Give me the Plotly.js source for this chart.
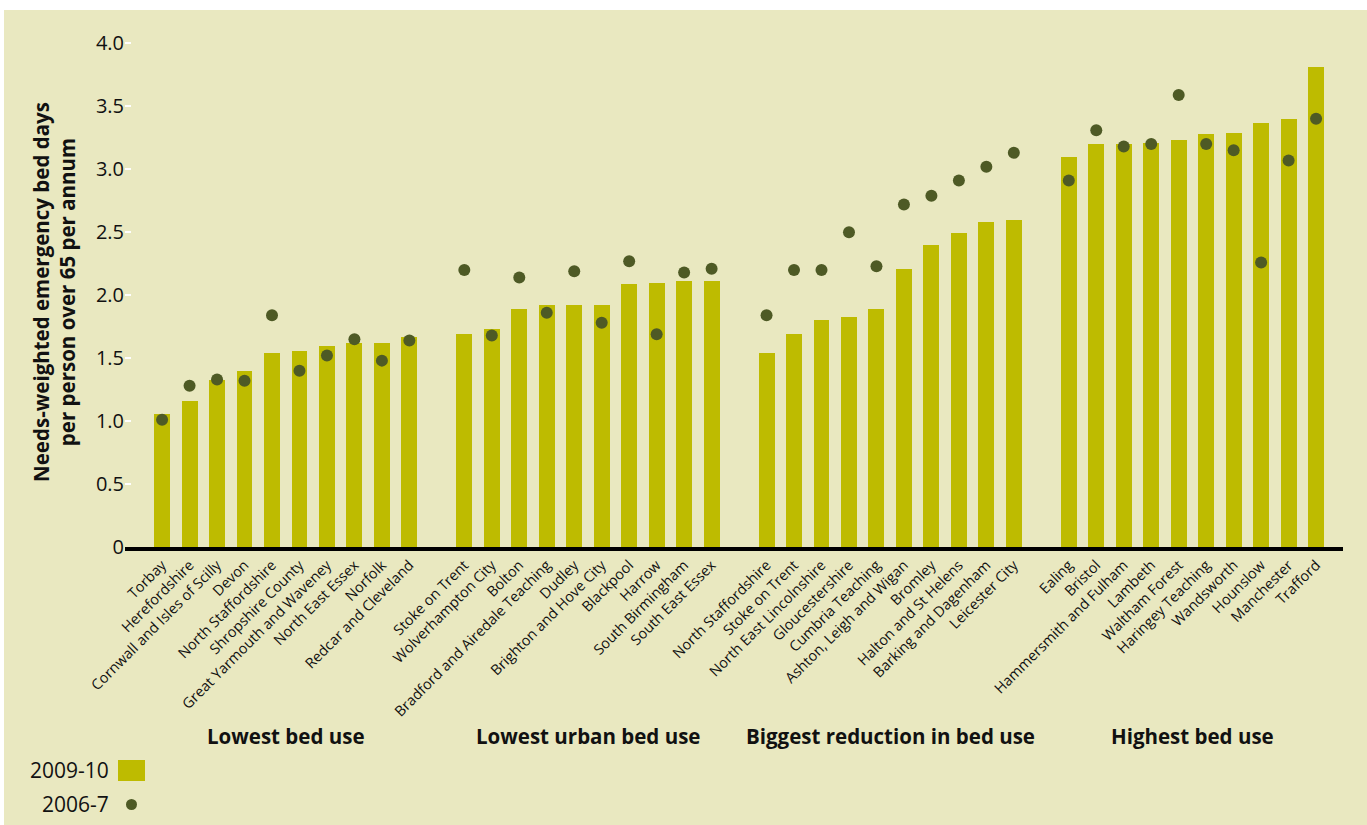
<!DOCTYPE html>
<html>
<head>
<meta charset="utf-8">
<script src="https://cdn.plot.ly/plotly-3.0.1.min.js"></script>
<style>html,body{margin:0;padding:0;background:#fff;}#chart{width:1367px;height:825px;}</style>
</head>
<body>
<div id="chart"></div>
<script>
// ---- DATA ----
const groupNames = ["Lowest bed use", "Lowest urban bed use", "Biggest reduction in bed use", "Highest bed use"];

const areasLowest = ["Torbay", "Herefordshire", "Cornwall and Isles of Scilly", "Devon", "North Staffordshire",
  "Shropshire County", "Great Yarmouth and Waveney", "North East Essex", "Norfolk", "Redcar and Cleveland"];
const bed0910Lowest = [1.06, 1.16, 1.33, 1.40, 1.54, 1.56, 1.60, 1.62, 1.62, 1.67];
const bed0607Lowest = [1.01, 1.28, 1.33, 1.32, 1.84, 1.40, 1.52, 1.65, 1.48, 1.64];

const areasUrban = ["Stoke on Trent", "Wolverhampton City", "Bolton", "Bradford and Airedale Teaching", "Dudley",
  "Brighton and Hove City", "Blackpool", "Harrow", "South Birmingham", "South East Essex"];
const bed0910Urban = [1.69, 1.73, 1.89, 1.92, 1.92, 1.92, 2.09, 2.10, 2.11, 2.11];
const bed0607Urban = [2.20, 1.68, 2.14, 1.86, 2.19, 1.78, 2.27, 1.69, 2.18, 2.21];

const areasReduction = ["North Staffordshire", "Stoke on Trent", "North East Lincolnshire", "Gloucestershire", "Cumbria Teaching",
  "Ashton, Leigh and Wigan", "Bromley", "Halton and St Helens", "Barking and Dagenham", "Leicester City"];
const bed0910Reduction = [1.54, 1.69, 1.80, 1.83, 1.89, 2.21, 2.40, 2.49, 2.58, 2.60];
const bed0607Reduction = [1.84, 2.20, 2.20, 2.50, 2.23, 2.72, 2.79, 2.91, 3.02, 3.13];

const areasHighest = ["Ealing", "Bristol", "Hammersmith and Fulham", "Lambeth", "Waltham Forest",
  "Haringey Teaching", "Wandsworth", "Hounslow", "Manchester", "Trafford"];
const bed0910Highest = [3.10, 3.20, 3.20, 3.21, 3.23, 3.28, 3.29, 3.37, 3.40, 3.81];
const bed0607Highest = [2.91, 3.31, 3.18, 3.20, 3.59, 3.20, 3.15, 2.26, 3.07, 3.40];

const yTickVals = [0, 0.5, 1.0, 1.5, 2.0, 2.5, 3.0, 3.5, 4.0];
const yTickText = ["0", "0.5", "1.0", "1.5", "2.0", "2.5", "3.0", "3.5", "4.0"];
const legendLabels = ["2009-10", "2006-7"];
const yTitle = "Needs-weighted emergency bed days<br>per person over 65 per annum";

// ---- BUILD ----
const groupAreas = [areasLowest, areasUrban, areasReduction, areasHighest];
const groupBars = [bed0910Lowest, bed0910Urban, bed0910Reduction, bed0910Highest];
const groupDots = [bed0607Lowest, bed0607Urban, bed0607Reduction, bed0607Highest];
const GAP = 11; // one empty slot between groups

const xs = [], names = [], bars = [], dots = [], groupCenters = [];
groupAreas.forEach((arr, g) => {
  arr.forEach((n, i) => {
    xs.push(g * GAP + i);
    names.push(n);
    bars.push(groupBars[g][i]);
    dots.push(groupDots[g][i]);
  });
  groupCenters.push(g * GAP + (arr.length - 1) / 2);
});

const BG = "#e9e8c0", BAR = "#bebb00", DOT = "#4e5a25";
const W = 1367, H = 825;
const M = {l: 125, r: 24, t: 37, b: 278};
const PW = W - M.l - M.r, PH = H - M.t - M.b;
const px2x = px => (px - M.l) / PW;
const py2y = py => (H - M.b - py) / PH;

const FONT = "Open Sans, Noto Sans, sans-serif";

const traces = [
  {type: "bar", x: xs, y: bars, marker: {color: BAR}, width: 0.58, hoverinfo: "skip", name: legendLabels[0]},
  {type: "scatter", mode: "markers", x: xs, y: dots, marker: {color: DOT, size: 12}, hoverinfo: "skip", name: legendLabels[1]}
];

const annotations = groupNames.map((t, g) => ({
  text: "<b>" + t + "</b>", x: groupCenters[g], xref: "x", y: py2y(736), yref: "paper",
  showarrow: false, xanchor: "center", yanchor: "middle", font: {family: FONT, size: 20.5, color: "#111"}
}));
annotations.push({text: legendLabels[0], x: px2x(111), xref: "paper", y: py2y(770), yref: "paper",
  showarrow: false, xanchor: "right", yanchor: "middle", font: {family: FONT, size: 21, color: "#111"}});
annotations.push({text: legendLabels[1], x: px2x(111), xref: "paper", y: py2y(804), yref: "paper",
  showarrow: false, xanchor: "right", yanchor: "middle", font: {family: FONT, size: 21, color: "#111"}});

const shapes = [
  {type: "rect", xref: "paper", yref: "paper", x0: px2x(4), x1: px2x(W + 5), y0: py2y(H + 5), y1: py2y(10),
   fillcolor: BG, line: {width: 0}, layer: "below"},
  {type: "rect", xref: "paper", yref: "paper", x0: px2x(118), x1: px2x(145), y0: py2y(781), y1: py2y(760),
   fillcolor: BAR, line: {width: 0}},
  {type: "circle", xref: "paper", yref: "paper", x0: px2x(126), x1: px2x(137), y0: py2y(810), y1: py2y(799),
   fillcolor: DOT, line: {width: 0}}
];

const layout = {
  width: W, height: H,
  margin: M,
  paper_bgcolor: "#ffffff",
  plot_bgcolor: "rgba(0,0,0,0)",
  showlegend: false,
  bargap: 0,
  xaxis: {
    range: [-1.35, 42.98], tickmode: "array", tickvals: xs, ticktext: names, tickangle: -45,
    showgrid: false, zeroline: false, showline: true, linecolor: "#000", linewidth: 4,
    ticks: "", tickfont: {family: FONT, size: 14.5, color: "#111"}, fixedrange: true
  },
  yaxis: {
    range: [0, 4.05], tickmode: "array", tickvals: yTickVals, ticktext: yTickText,
    showgrid: false, zeroline: false, showline: false,
    ticks: "inside", ticklen: 6, tickwidth: 2, tickcolor: "#ffffff",
    tickfont: {family: FONT, size: 20, color: "#111"},
    title: {text: "<b>" + yTitle + "</b>", font: {family: FONT, size: 20.5, color: "#111"}, standoff: 14},
    fixedrange: true
  },
  annotations: annotations,
  shapes: shapes
};

Plotly.newPlot("chart", traces, layout, {displayModeBar: false, staticPlot: true});
</script>
</body>
</html>
